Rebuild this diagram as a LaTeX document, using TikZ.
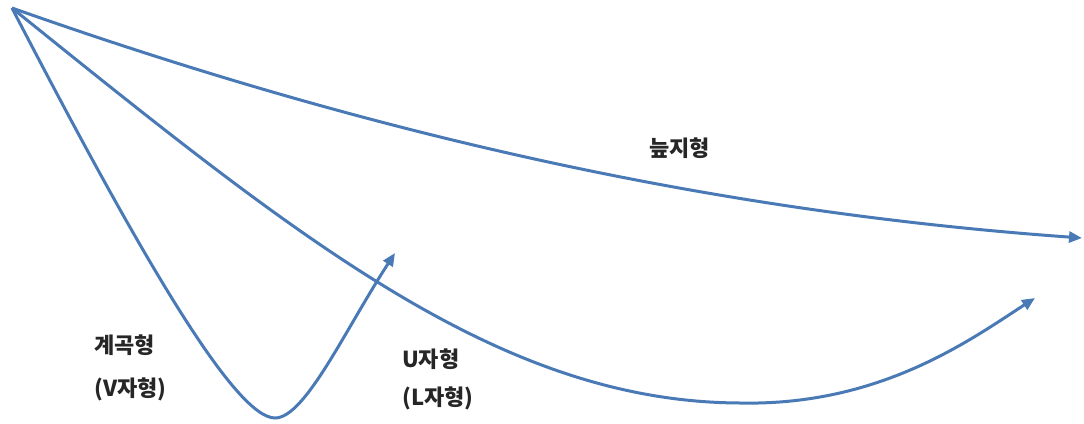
\documentclass[tikz,border=0pt]{standalone}
\usepackage{fontspec}
\newfontfamily\kr{Noto Sans CJK KR}
\usetikzlibrary{arrows.meta}
\definecolor{lineblue}{HTML}{4A7AB6}
\tikzset{
  flow/.style={draw=lineblue, line width=3pt, -{Triangle[length=13pt,width=11pt]}},
  lbl/.style={font=\kr\bfseries\fontsize{22}{26}\selectfont, anchor=west, inner sep=0pt, text=black!85}
}
\begin{document}
\begin{tikzpicture}[x=1pt,y=-1pt]
\useasboundingbox (0,0) rectangle (1084,423);
\coordinate (o) at (12,8);
\coordinate (e1) at (1082,238);
\coordinate (ub) at (740,403);
\coordinate (e2) at (1035,298);
\coordinate (vb) at (275,418);
\coordinate (e3) at (395,253);
% swamp type
\draw[flow] (o) .. controls (380,138) and (720,212) .. (e1);
% U type
\draw[flow] (o) .. controls (300,240) and (500,402) .. (ub)
                .. controls (880,406) and (970,340) .. (e2);
% V type
\draw[flow] (o) .. controls (140,255) and (235,418) .. (vb)
                .. controls (305,418) and (345,330) .. (e3);
\node[lbl] (t1) at (649,148) {늪지형};
\node[lbl] (t2) at (94,345) {계곡형};
\node[lbl] (t3) at (94,389) {(V자형)};
\node[lbl] (t4) at (402,359) {U자형};
\node[lbl] (t5) at (402,398) {(L자형)};
\end{tikzpicture}
\end{document}
